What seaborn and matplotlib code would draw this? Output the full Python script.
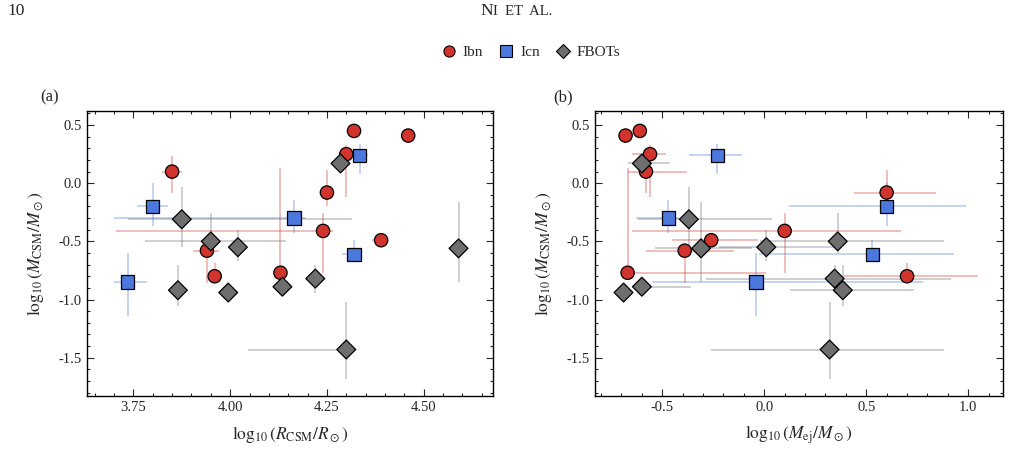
import matplotlib
matplotlib.use("Agg")
import matplotlib.pyplot as plt
from matplotlib.lines import Line2D
import seaborn as sns
import pandas as pd

# values (log10 quantities)
ibn_logM = [0.45, 0.41, 0.25, 0.10, -0.08, -0.41, -0.49, -0.58, -0.77, -0.80]
ibn_logM_lo = [0, 0, 0.37, 0.18, 0.12, 0.36, 0, 0.28, 0, 0]
ibn_logM_hi = [0, 0, 0.08, 0.13, 0.19, 0.15, 0, 0.05, 0.90, 0.11]
ibn_logR = [4.32, 4.46, 4.30, 3.85, 4.25, 4.24, 4.39, 3.94, 4.13, 3.96]
ibn_logR_lo = [0, 0, 0, 0.026, 0, 0.535, 0.023, 0.035, 0, 0]
ibn_logR_hi = [0, 0, 0, 0.026, 0, 0.026, 0, 0.03, 0, 0]
ibn_logMej = [-0.61, -0.68, -0.56, -0.58, 0.60, 0.10, -0.26, -0.39, -0.67, 0.70]
ibn_logMej_lo = [0, 0, 0.09, 0.09, 0.16, 0.75, 0.19, 0.19, 0, 0.31]
ibn_logMej_hi = [0, 0, 0.08, 0.20, 0.24, 0.57, 0.23, 0.24, 0.68, 0.35]

icn_logM = [0.24, -0.20, -0.30, -0.61, -0.85]
icn_logM_lo = [0.16, 0.17, 0.13, 0, 0.29]
icn_logM_hi = [0.10, 0.20, 0.16, 0.12, 0.25]
icn_logR = [4.335, 3.80, 4.165, 4.32, 3.735]
icn_logR_lo = [0.02, 0.04, 0.465, 0.03, 0.035]
icn_logR_hi = [0.02, 0.04, 0.03, 0, 0.05]
icn_logMej = [-0.23, 0.60, -0.47, 0.53, -0.04]
icn_logMej_lo = [0.14, 0.48, 0.16, 0.555, 0.51]
icn_logMej_hi = [0.12, 0.39, 0.05, 0.40, 0.82]

fbot_logM = [0.17, -0.31, -0.50, -0.55, -0.56, -0.82, -0.89, -0.92, -0.94, -1.43]
fbot_logM_lo = [0, 0.24, 0.10, 0.12, 0.29, 0.12, 0, 0.14, 0, 0.25]
fbot_logM_hi = [0, 0.28, 0.24, 0.15, 0.40, 0.12, 0, 0.22, 0, 0.41]
fbot_logR = [4.285, 3.875, 3.95, 4.02, 4.59, 4.22, 4.135, 3.865, 3.995, 4.30]
fbot_logR_lo = [0.025, 0.14, 0.17, 0, 0, 0, 0, 0, 0, 0.255]
fbot_logR_hi = [0.02, 0.44, 0.195, 0, 0, 0, 0, 0, 0, 0.025]
fbot_logMej = [-0.60, -0.37, 0.36, 0.01, -0.31, 0.345, -0.60, 0.385, -0.69, 0.32]
fbot_logMej_lo = [0.07, 0.25, 0.38, 0.23, 0.225, 0.63, 0, 0.26, 0, 0.58]
fbot_logMej_hi = [0.14, 0.41, 0.52, 0.35, 0.25, 0.57, 0.24, 0.35, 0, 0.56]

types = ["Ibn", "Icn", "FBOTs"]
colors = {"Ibn": "#d0342c", "Icn": "#4a78dc", "FBOTs": "#6e6e6e"}
markers = {"Ibn": "o", "Icn": "s", "FBOTs": "D"}

groups = {
    "Ibn": dict(M=ibn_logM, Mlo=ibn_logM_lo, Mhi=ibn_logM_hi, R=ibn_logR, Rlo=ibn_logR_lo,
                Rhi=ibn_logR_hi, E=ibn_logMej, Elo=ibn_logMej_lo, Ehi=ibn_logMej_hi),
    "Icn": dict(M=icn_logM, Mlo=icn_logM_lo, Mhi=icn_logM_hi, R=icn_logR, Rlo=icn_logR_lo,
                Rhi=icn_logR_hi, E=icn_logMej, Elo=icn_logMej_lo, Ehi=icn_logMej_hi),
    "FBOTs": dict(M=fbot_logM, Mlo=fbot_logM_lo, Mhi=fbot_logM_hi, R=fbot_logR, Rlo=fbot_logR_lo,
                  Rhi=fbot_logR_hi, E=fbot_logMej, Elo=fbot_logMej_lo, Ehi=fbot_logMej_hi),
}

rows = []
for t in types:
    g = groups[t]
    for i in range(len(g["M"])):
        rows.append({"type": t, "logM": g["M"][i], "logR": g["R"][i], "logMej": g["E"][i]})
df = pd.DataFrame(rows)

sns.set_style("ticks")
plt.rcParams["font.family"] = ["Liberation Serif", "DejaVu Serif"]
plt.rcParams["mathtext.fontset"] = "stix"
plt.rcParams["axes.unicode_minus"] = False
plt.rcParams["xtick.direction"] = "in"
plt.rcParams["ytick.direction"] = "in"

fig = plt.figure(figsize=(10.11, 4.67), dpi=100)
ax1 = fig.add_axes([0.086, 0.152, 0.402, 0.610])
ax2 = fig.add_axes([0.5885, 0.152, 0.4035, 0.610])


def draw(ax, xcol, lo_key, hi_key, xkey):
    for t in types:
        g = groups[t]
        ax.errorbar(g[xkey], g["M"], xerr=[g[lo_key], g[hi_key]], yerr=[g["Mlo"], g["Mhi"]],
                    fmt="none", ecolor=colors[t], alpha=0.35, elinewidth=1.3, capsize=0, zorder=1)
    sns.scatterplot(data=df, x=xcol, y="logM", hue="type", style="type", markers=markers,
                    palette=colors, hue_order=types, s=92, edgecolor="black", linewidth=0.9,
                    legend=False, zorder=3, ax=ax)
    ax.set_ylim(-1.83, 0.62)
    ax.set_yticks([0.5, 0.0, -0.5, -1.0, -1.5])
    ax.set_yticks([v / 10 for v in range(-18, 7)], minor=True)
    ax.set_ylabel(r"$\log_{10}(M_{\rm CSM}/M_\odot)$", fontsize=12.5, labelpad=9)
    ax.tick_params(which="both", top=True, right=True, labelsize=10.5, width=0.8)
    ax.tick_params(which="major", length=5)
    ax.tick_params(which="minor", length=2.5)
    for sp in ax.spines.values():
        sp.set_linewidth(1.0)
        sp.set_color("black")


draw(ax1, "logR", "Rlo", "Rhi", "R")
ax1.set_xlim(3.63, 4.68)
ax1.set_xticks([3.75, 4.00, 4.25, 4.50])
ax1.set_xticklabels(["3.75", "4.00", "4.25", "4.50"])
ax1.set_xticks([3.65 + 0.05 * k for k in range(21)], minor=True)
ax1.set_xlabel(r"$\log_{10}(R_{\rm CSM}/R_\odot)$", fontsize=12.5, labelpad=7)

draw(ax2, "logMej", "Elo", "Ehi", "E")
ax2.set_xlim(-0.83, 1.17)
ax2.set_xticks([-0.5, 0.0, 0.5, 1.0])
ax2.set_xticklabels(["-0.5", "0.0", "0.5", "1.0"])
ax2.set_xticks([-0.8 + 0.1 * k for k in range(20)], minor=True)
ax2.set_xlabel(r"$\log_{10}(M_{\rm ej}/M_\odot)$", fontsize=12.5, labelpad=7)

fig.text(40 / 1011, 1 - 97 / 467, "(a)", fontsize=12, va="center")
fig.text(553 / 1011, 1 - 97 / 467, "(b)", fontsize=12, va="center")

# running header
fig.text(7 / 1011, 1 - 11 / 467, "10", fontsize=12.5, va="center")
fig.text(493 / 1011, 1 - 11 / 467, "N", fontsize=12.5, va="center", ha="right")
fig.text(493 / 1011, 1 - 11.5 / 467, "I  ET  AL.", fontsize=10.5, va="center", ha="left")

handles = [Line2D([], [], ls="none", marker=markers[t], markerfacecolor=colors[t],
                  markeredgecolor="black", markeredgewidth=0.8, markersize=8 if t != "FBOTs" else 7.5)
           for t in types]
fig.legend(handles, types, loc="center", bbox_to_anchor=(530 / 1011, 1 - 52 / 467), ncol=3,
           frameon=False, fontsize=11, handletextpad=0.3, columnspacing=0.9, handlelength=1.2)

fig.savefig("out.png", dpi=100)
